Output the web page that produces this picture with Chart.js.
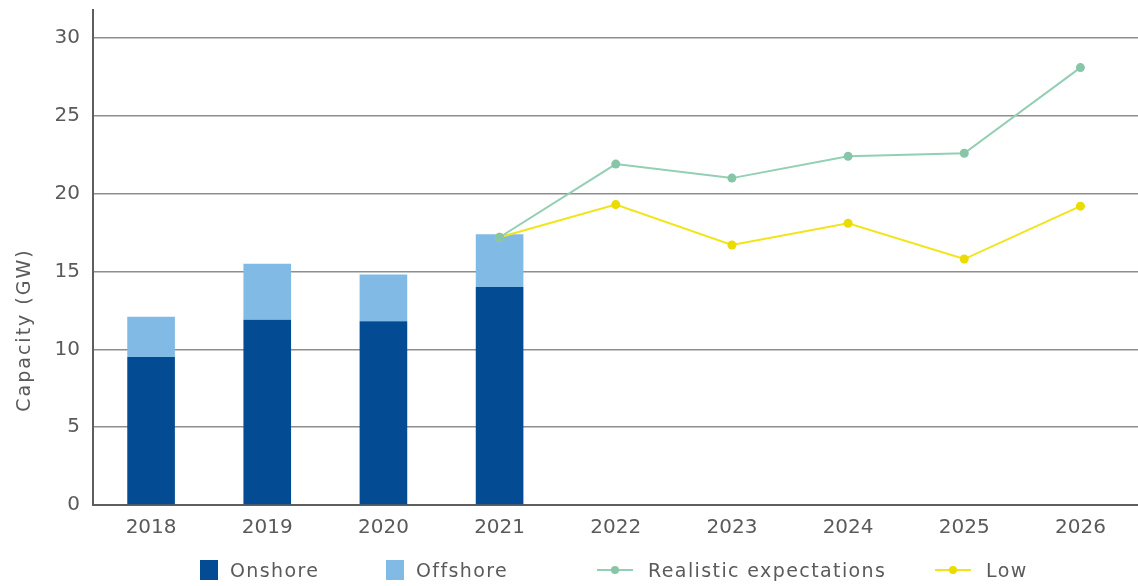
<!DOCTYPE html>
<html>
<head>
<meta charset="utf-8">
<script src="https://cdn.jsdelivr.net/npm/chart.js@4"></script>
<style>
  html, body { margin: 0; padding: 0; background: #fff; overflow: hidden; }
  #wrap { position: relative; width: 1143px; height: 586px; }
  #legend { position: absolute; top: 557px; left: 0; width: 1138px; height: 30px;
    font-family: 'DejaVu Sans', sans-serif; font-size: 19px; letter-spacing: 1.4px; color: #5a5a5a; }
  .item { position: absolute; top: 2px; display: flex; align-items: center; white-space: nowrap; }
  .box { width: 18px; height: 20px; margin-right: 12px; }
  .line { position: relative; width: 36px; height: 2px; margin-right: 15px; }
  .line span { position: absolute; left: 14px; top: -3px; width: 8px; height: 8px; border-radius: 50%; }
</style>
</head>
<body>
<div id="wrap">
  <canvas id="capacityChart" width="1143" height="586"></canvas>
  <div id="legend"></div>
</div>
<script>
// =============================================
// Capacity chart: bars 2018-2021, outlook lines 2021-2026
// =============================================

const years = ['2018', '2019', '2020', '2021', '2022', '2023', '2024', '2025', '2026'];
const onshore = [9.5, 11.9, 11.8, 14.0, null, null, null, null, null];
const offshore = [2.6, 3.6, 3.0, 3.4, null, null, null, null, null];
const realistic = [null, null, null, 17.2, 21.9, 21.0, 22.4, 22.6, 28.1];
const low = [null, null, null, 17.2, 19.3, 16.7, 18.1, 15.8, 19.2];
const yTicks = [0, 5, 10, 15, 20, 25, 30];

const COLORS = {
  onshore: '#034b92',
  offshore: '#82bae6',
  realistic: '#93cfb3',
  realisticPoint: '#86c5a8',
  low: '#f1e51a',
  lowPoint: '#eadc00',
  grid: '#8e8e8e',
  axis: '#5e5e5e',
  text: '#5a5a5a',
};

const FONT = "'DejaVu Sans', sans-serif";

/**
 * Rotated y axis title, sitting a bit below the scale's middle
 */
const yTitlePlugin = {
  id: 'yTitle',
  afterDraw(chart) {
    const ctx = chart.ctx;
    ctx.save();
    ctx.translate(25, 330);
    ctx.rotate(-Math.PI / 2);
    ctx.fillStyle = COLORS.text;
    ctx.font = `19px ${FONT}`;
    ctx.letterSpacing = '2px';
    ctx.textAlign = 'center';
    ctx.textBaseline = 'middle';
    ctx.fillText('Capacity (GW)', 0, 0);
    ctx.restore();
  },
};

function buildLegend() {
  const items = [
    { label: 'Onshore', color: COLORS.onshore, left: 200, type: 'box' },
    { label: 'Offshore', color: COLORS.offshore, left: 386, type: 'box' },
    { label: 'Realistic expectations', color: COLORS.realistic, dot: COLORS.realisticPoint, left: 597, type: 'line' },
    { label: 'Low', color: COLORS.low, dot: COLORS.lowPoint, left: 935, type: 'line' },
  ];
  const el = document.getElementById('legend');
  items.forEach((it) => {
    const div = document.createElement('div');
    div.className = 'item';
    div.style.left = it.left + 'px';
    const mark = document.createElement('div');
    mark.className = it.type;
    mark.style.background = it.color;
    if (it.type === 'line') {
      const dot = document.createElement('span');
      dot.style.background = it.dot;
      mark.appendChild(dot);
    }
    const txt = document.createElement('div');
    txt.textContent = it.label;
    div.appendChild(mark);
    div.appendChild(txt);
    el.appendChild(div);
  });
}

const ctx = document.getElementById('capacityChart').getContext('2d');

new Chart(ctx, {
  type: 'bar',
  data: {
    labels: years,
    datasets: [
      {
        type: 'line',
        label: 'Realistic expectations',
        data: realistic,
        stack: 'realistic',
        borderColor: COLORS.realistic,
        backgroundColor: COLORS.realisticPoint,
        borderWidth: 2,
        pointRadius: 4.5,
        pointBorderWidth: 0,
        tension: 0,
        order: 0,
      },
      {
        type: 'line',
        label: 'Low',
        data: low,
        stack: 'low',
        borderColor: COLORS.low,
        backgroundColor: COLORS.lowPoint,
        borderWidth: 2,
        pointRadius: 4.5,
        pointBorderWidth: 0,
        tension: 0,
        order: 0,
      },
      {
        label: 'Onshore',
        data: onshore,
        stack: 'bars',
        backgroundColor: COLORS.onshore,
        borderWidth: 0,
        categoryPercentage: 1,
        barPercentage: 0.41,
        order: 1,
      },
      {
        label: 'Offshore',
        data: offshore,
        stack: 'bars',
        backgroundColor: COLORS.offshore,
        borderWidth: 0,
        categoryPercentage: 1,
        barPercentage: 0.41,
        order: 1,
      },
    ],
  },
  options: {
    responsive: false,
    animation: false,
    layout: { padding: { top: 10, left: 0, right: 0, bottom: 0 } },
    plugins: {
      legend: { display: false },
      tooltip: { enabled: false },
    },
    scales: {
      x: {
        stacked: true,
        grid: { display: false, drawTicks: false },
        border: { display: true, color: COLORS.axis, width: 2 },
        ticks: {
          color: COLORS.text,
          font: { family: FONT, size: 20 },
          padding: 11,
          maxRotation: 0,
        },
        afterFit(scale) {
          scale.height = 81;
          scale.paddingLeft = 0;
          scale.paddingRight = 0;
        },
      },
      y: {
        stacked: true,
        min: 0,
        max: 31.8,
        afterBuildTicks(scale) {
          scale.ticks = yTicks.map((v) => ({ value: v }));
        },
        grid: { color: COLORS.grid, lineWidth: 1.5, drawTicks: false },
        border: { display: true, color: COLORS.axis, width: 2 },
        ticks: {
          color: COLORS.text,
          font: { family: FONT, size: 20 },
          padding: 13,
        },
        afterFit(scale) {
          scale.width = 93;
          scale.paddingTop = 0;
          scale.paddingBottom = 0;
        },
      },
    },
  },
  plugins: [yTitlePlugin],
});

buildLegend();
</script>
</body>
</html>
